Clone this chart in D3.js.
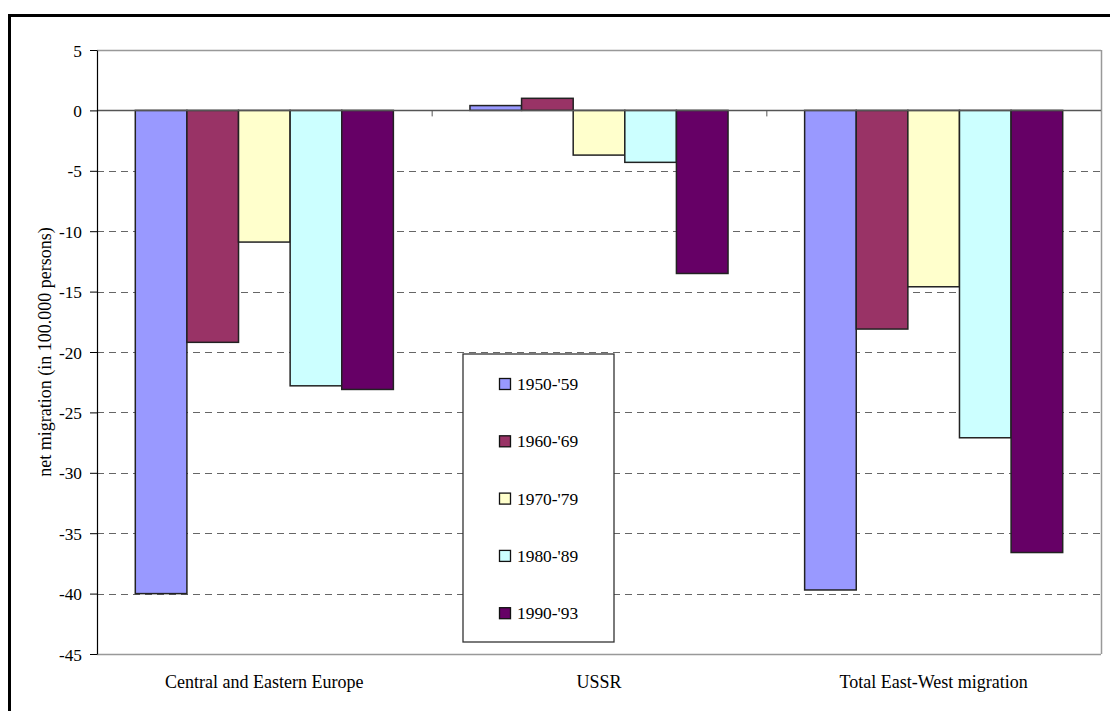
<!DOCTYPE html>
<html><head><meta charset="utf-8">
<script src="https://cdn.jsdelivr.net/npm/d3@7"></script>
<style>body{margin:0;background:#fff;}svg{display:block;}svg text{font-family:"Liberation Serif","Times New Roman",serif;fill:#000;}</style>
</head><body>
<script>
const categories = ["Central and Eastern Europe", "USSR", "Total East-West migration"];
const periods = ["1950-'59", "1960-'69", "1970-'79", "1980-'89", "1990-'93"];
const v1950 = [-40.0, 0.4, -39.7];
const v1960 = [-19.2, 1.0, -18.1];
const v1970 = [-10.9, -3.7, -14.6];
const v1980 = [-22.8, -4.3, -27.1];
const v1990 = [-23.1, -13.5, -36.6];
const colors = ["#9999ff", "#993366", "#ffffcc", "#ccffff", "#660066"];
const yTicks = [5, 0, -5, -10, -15, -20, -25, -30, -35, -40, -45];
const yTitle = "net migration (in 100.000 persons)";
const series = [v1950, v1960, v1970, v1980, v1990];

const W = 1110, H = 711;
const svg = d3.select("body").append("svg").attr("width", W).attr("height", H);

// outer border
svg.append("rect").attr("x", 9.5).attr("y", 15.5).attr("width", 1110).attr("height", 710)
  .attr("fill", "none").attr("stroke", "#000").attr("stroke-width", 3);

const L = 97, R = 1101, T = 50, B = 654;
const y = d3.scaleLinear().domain([-45, 5]).range([B, T]);
const x0 = d3.scaleBand().domain(categories).range([L, R]).padding(0);
const inner = d3.scaleBand().domain(d3.range(periods.length)).range([38.3, x0.bandwidth() - 38.3]).padding(0);

// gridlines
const g = svg.append("g");
yTicks.filter(t => t !== 0 && t !== 5 && t !== -45).forEach(t => {
  g.append("line").attr("x1", L).attr("x2", R).attr("y1", Math.round(y(t)) + 0.5).attr("y2", Math.round(y(t)) + 0.5)
    .attr("stroke", "#666").attr("stroke-width", 1).attr("stroke-dasharray", "7,5");
});

// plot frame (top, right, bottom gray)
svg.append("line").attr("x1", L).attr("x2", R).attr("y1", T + 0.5).attr("y2", T + 0.5).attr("stroke", "#999").attr("stroke-width", 1.5);
svg.append("line").attr("x1", R + 0.5).attr("x2", R + 0.5).attr("y1", T).attr("y2", B).attr("stroke", "#999").attr("stroke-width", 1.5);
svg.append("line").attr("x1", L).attr("x2", R).attr("y1", B + 0.5).attr("y2", B + 0.5).attr("stroke", "#999").attr("stroke-width", 1.5);

// bars
categories.forEach((c, ci) => {
  series.forEach((s, si) => {
    const val = s[ci];
    const bx = x0(c) + inner(si);
    svg.append("rect")
      .attr("x", bx).attr("width", inner.bandwidth())
      .attr("y", y(Math.max(0, val))).attr("height", Math.abs(y(val) - y(0)))
      .attr("fill", colors[si]).attr("stroke", "#222").attr("stroke-width", 1.5);
  });
});

// zero line
svg.append("line").attr("x1", L).attr("x2", R).attr("y1", Math.round(y(0)) + 0.5).attr("y2", Math.round(y(0)) + 0.5)
  .attr("stroke", "#555").attr("stroke-width", 1.3);

// category ticks on zero line
categories.forEach((c, i) => {
  if (i > 0) svg.append("line").attr("x1", x0(c) + 0.5).attr("x2", x0(c) + 0.5)
    .attr("y1", y(0)).attr("y2", y(0) + 6).attr("stroke", "#555").attr("stroke-width", 1);
});

// y axis
const yAxis = d3.axisLeft(y).tickValues(yTicks).tickSize(7).tickSizeOuter(0).tickFormat(d => String(d));
const ya = svg.append("g").attr("transform", `translate(${L},0)`).call(yAxis);
ya.attr("font-family", null).attr("font-size", null);
ya.select(".domain").attr("stroke", "#000").attr("stroke-width", 1.2);
ya.selectAll(".tick line").attr("stroke", "#000");
ya.selectAll("text").attr("font-size", 17.3).attr("x", -15).attr("dy", "0.35em");

// y title
svg.append("text").attr("transform", `translate(51,${(T + B) / 2}) rotate(-90)`)
  .attr("text-anchor", "middle").attr("font-size", 18).text(yTitle);

// x labels
categories.forEach(c => {
  svg.append("text").attr("x", x0(c) + x0.bandwidth() / 2).attr("y", 688)
    .attr("text-anchor", "middle").attr("font-size", 18).text(c);
});

// legend
const lg = svg.append("g");
lg.append("rect").attr("x", 463).attr("y", 354).attr("width", 151).attr("height", 288)
  .attr("fill", "#fff").attr("stroke", "#333").attr("stroke-width", 1.3);
periods.forEach((p, i) => {
  const cy = 384 + i * 57.3;
  lg.append("rect").attr("x", 499.5).attr("y", cy - 5.5).attr("width", 11).attr("height", 11)
    .attr("fill", colors[i]).attr("stroke", "#111").attr("stroke-width", 1.3);
  lg.append("text").attr("x", 517).attr("y", cy).attr("dy", "0.35em")
    .attr("font-size", 17.4).text(p);
});
</script>
</body></html>
